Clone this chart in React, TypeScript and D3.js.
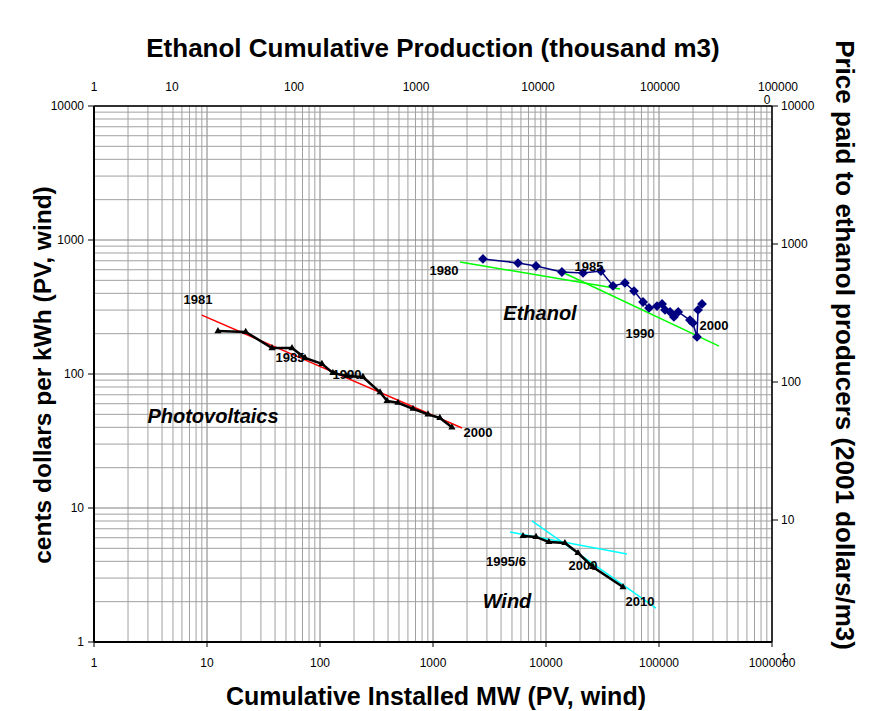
import React from 'react';
import * as d3 from 'd3';

// Photovoltaics (bottom x: cumulative MW, left y: cents/kWh)
const PV_MW = [12.5, 22, 37.6, 56.5, 73.6, 104, 130, 173, 240, 340, 392, 490, 665, 903, 1150, 1470];
const PV_PRICE = [209, 206, 156, 156, 132, 119, 102, 96.6, 95, 73, 63, 61, 55, 50, 47, 40];
const PV_FIT_MW = [9.0, 1806];
const PV_FIT_PRICE = [275, 39.5];

// Wind (bottom x, left y)
const WIND_MW = [6260, 8160, 10600, 14700, 19200, 26000, 48000];
const WIND_PRICE = [6.18, 6.08, 5.57, 5.48, 4.61, 3.63, 2.57];
const WIND_FIT1_MW = [4800, 52100];
const WIND_FIT1_PRICE = [6.62, 4.54];
const WIND_FIT2_MW = [7510, 94000];
const WIND_FIT2_PRICE = [8.0, 1.79];

// Ethanol (top x: thousand m3, right y: 2001 dollars/m3)
const ETH_PROD = [3540, 6850, 9630, 15700, 23400, 32800, 41200, 51600, 61200, 72600, 81300, 94500,
  104000, 110000, 121000, 130000, 141000, 176000, 186000, 201000, 205000, 221000];
const ETH_PRICE = [779, 728, 693, 627, 617, 637, 497, 522, 456, 380, 344, 355,
  368, 333, 322, 296, 322, 281, 268, 212, 333, 368];
const ETH_FIT1_PROD = [2296, 47000];
const ETH_FIT1_PRICE = [741, 472];
const ETH_FIT2_PROD = [15700, 305000];
const ETH_FIT2_PRICE = [627, 182];

const BOTTOM_TICKS = [1, 10, 100, 1000, 10000, 100000, 1000000];
const LEFT_TICKS = [1, 10, 100, 1000, 10000];
const TOP_TICKS = [1, 10, 100, 1000, 10000, 100000, 1000000];
const RIGHT_TICKS = [1, 10, 100, 1000, 10000];

const FONT = 'Liberation Sans, Arial, sans-serif';

export default function App() {
  const width = 884;
  const height = 711;
  const left = 94, right = 772, top = 106, bottom = 642;

  const x = d3.scaleLog().domain([1, 1e6]).range([left, right]);
  const y = d3.scaleLog().domain([1, 1e4]).range([bottom, top]);
  const xTop = d3.scaleLog().domain([1, 1e6]).range([50, 782]);
  const yRight = d3.scaleLog().domain([1, 1e4]).range([658, 106]);

  const minorVals = (lo: number, hi: number) => {
    const out: number[] = [];
    for (let d = lo; d < hi; d *= 10) for (let k = 2; k <= 9; k++) out.push(d * k);
    return out;
  };

  const line = (xs: number[], ys: number[], sx: any, sy: any) =>
    d3.line<number>().x((_, i) => sx(xs[i])).y((_, i) => sy(ys[i]))(xs.map((_, i) => i)) || '';

  const tri = d3.symbol().type(d3.symbolTriangle).size(22)() || '';
  const dia = d3.symbol().type(d3.symbolSquare).size(48)() || '';

  const lbl = { fontFamily: FONT, fontSize: 13, fontWeight: 'bold' as const };
  const big = { fontFamily: FONT, fontSize: 20, fontWeight: 'bold' as const, fontStyle: 'italic' as const };

  return (
    <svg width={width} height={height} style={{ position: 'absolute', left: 0, top: 0, background: '#fff' }}>
      {/* grid */}
      <g>
        {minorVals(1, 1e6).map((v) => (
          <line key={'vx' + v} x1={x(v)} x2={x(v)} y1={top} y2={bottom} stroke="#a0a0a0" strokeWidth={1} />
        ))}
        {BOTTOM_TICKS.map((v) => (
          <line key={'vX' + v} x1={x(v)} x2={x(v)} y1={top} y2={bottom} stroke="#808080" strokeWidth={1} />
        ))}
        {minorVals(1, 1e4).map((v) => (
          <line key={'hy' + v} x1={left} x2={right} y1={y(v)} y2={y(v)} stroke="#a0a0a0" strokeWidth={1} />
        ))}
        {LEFT_TICKS.map((v) => (
          <line key={'hY' + v} x1={left} x2={right} y1={y(v)} y2={y(v)} stroke="#808080" strokeWidth={1} />
        ))}
      </g>

      {/* axes frame */}
      <line x1={left} x2={left} y1={top} y2={bottom} stroke="#000" strokeWidth={2} />
      <line x1={left} x2={right} y1={bottom} y2={bottom} stroke="#000" strokeWidth={2} />
      <line x1={left} x2={right} y1={top} y2={top} stroke="#000" strokeWidth={1.5} />
      <line x1={right} x2={right} y1={top} y2={bottom} stroke="#000" strokeWidth={1.5} />

      {/* left ticks */}
      {LEFT_TICKS.map((v) => (
        <g key={'lt' + v}>
          <line x1={left - 6} x2={left} y1={y(v)} y2={y(v)} stroke="#000" />
          <text x={left - 10} y={y(v) + 4} textAnchor="end" fontFamily={FONT} fontSize={12}>{v}</text>
        </g>
      ))}
      {/* bottom ticks */}
      {BOTTOM_TICKS.map((v) => (
        <g key={'bt' + v}>
          <line x1={x(v)} x2={x(v)} y1={bottom} y2={bottom + 5} stroke="#000" />
          <text x={x(v)} y={bottom + 25} textAnchor="middle" fontFamily={FONT} fontSize={12}>{v}</text>
        </g>
      ))}
      {/* top labels */}
      {TOP_TICKS.map((v) => {
        const px = Math.max(left, xTop(v));
        if (v === 1e6) {
          return (
            <text key={'tt' + v} fontFamily={FONT} fontSize={12} textAnchor="middle">
              <tspan x={px - 4} y={91}>100000</tspan>
              <tspan x={px - 15} y={104}>0</tspan>
            </text>
          );
        }
        return <text key={'tt' + v} x={px} y={91} textAnchor="middle" fontFamily={FONT} fontSize={12}>{v}</text>;
      })}
      {/* right labels */}
      {RIGHT_TICKS.map((v) => (
        <g key={'rt' + v}>
          {yRight(v) <= bottom && <line x1={right} x2={right + 6} y1={yRight(v)} y2={yRight(v)} stroke="#000" />}
          <text x={right + 9} y={yRight(v) + 4} textAnchor="start" fontFamily={FONT} fontSize={12}>{v}</text>
        </g>
      ))}

      {/* PV */}
      <path d={line(PV_FIT_MW, PV_FIT_PRICE, x, y)} stroke="#ff0000" strokeWidth={1.5} fill="none" />
      <path d={line(PV_MW, PV_PRICE, x, y)} stroke="#000" strokeWidth={2.5} fill="none" />
      {PV_MW.map((v, i) => (
        <path key={'pv' + i} d={tri} transform={`translate(${x(v)},${y(PV_PRICE[i])})`} fill="#000" />
      ))}

      {/* Ethanol */}
      <path d={line(ETH_FIT1_PROD, ETH_FIT1_PRICE, xTop, yRight)} stroke="#00ff00" strokeWidth={1.5} fill="none" />
      <path d={line(ETH_FIT2_PROD, ETH_FIT2_PRICE, xTop, yRight)} stroke="#00ff00" strokeWidth={1.5} fill="none" />
      <path d={line(ETH_PROD, ETH_PRICE, xTop, yRight)} stroke="#000080" strokeWidth={1.5} fill="none" />
      {ETH_PROD.map((v, i) => (
        <path key={'et' + i} d={dia} transform={`translate(${xTop(v)},${yRight(ETH_PRICE[i])}) rotate(45)`} fill="#000080" />
      ))}

      {/* Wind */}
      <path d={line(WIND_FIT1_MW, WIND_FIT1_PRICE, x, y)} stroke="#00ffff" strokeWidth={1.5} fill="none" />
      <path d={line(WIND_FIT2_MW, WIND_FIT2_PRICE, x, y)} stroke="#00ffff" strokeWidth={1.5} fill="none" />
      <path d={line(WIND_MW, WIND_PRICE, x, y)} stroke="#000" strokeWidth={2.5} fill="none" />
      {WIND_MW.map((v, i) => (
        <path key={'wd' + i} d={tri} transform={`translate(${x(v)},${y(WIND_PRICE[i])})`} fill="#000" />
      ))}

      {/* data labels */}
      <text x={198} y={304} textAnchor="middle" {...lbl}>1981</text>
      <text x={290} y={362} textAnchor="middle" {...lbl}>1985</text>
      <text x={347} y={379} textAnchor="middle" {...lbl}>1990</text>
      <text x={478} y={437} textAnchor="middle" {...lbl}>2000</text>
      <text x={444} y={275} textAnchor="middle" {...lbl}>1980</text>
      <text x={589} y={271} textAnchor="middle" {...lbl}>1985</text>
      <text x={640} y={338} textAnchor="middle" {...lbl}>1990</text>
      <text x={714} y={330} textAnchor="middle" {...lbl}>2000</text>
      <text x={506} y={566} textAnchor="middle" {...lbl}>1995/6</text>
      <text x={583} y={570} textAnchor="middle" {...lbl}>2000</text>
      <text x={640} y={606} textAnchor="middle" {...lbl}>2010</text>

      <text x={213} y={423} textAnchor="middle" {...big}>Photovoltaics</text>
      <text x={540} y={320} textAnchor="middle" {...big}>Ethanol</text>
      <text x={507} y={608} textAnchor="middle" {...big}>Wind</text>

      {/* titles */}
      <text x={433} y={57} textAnchor="middle" fontFamily={FONT} fontSize={26} fontWeight="bold">Ethanol Cumulative Production (thousand m3)</text>
      <text x={436} y={705} textAnchor="middle" fontFamily={FONT} fontSize={25} fontWeight="bold">Cumulative Installed MW (PV, wind)</text>
      <text transform="translate(51,375) rotate(-90)" textAnchor="middle" fontFamily={FONT} fontSize={24.5} fontWeight="bold">cents dollars per  kWh (PV, wind)</text>
      <text transform="translate(836,345) rotate(90)" textAnchor="middle" fontFamily={FONT} fontSize={26} fontWeight="bold">Price paid to ethanol producers (2001 dollars/m3)</text>
    </svg>
  );
}
